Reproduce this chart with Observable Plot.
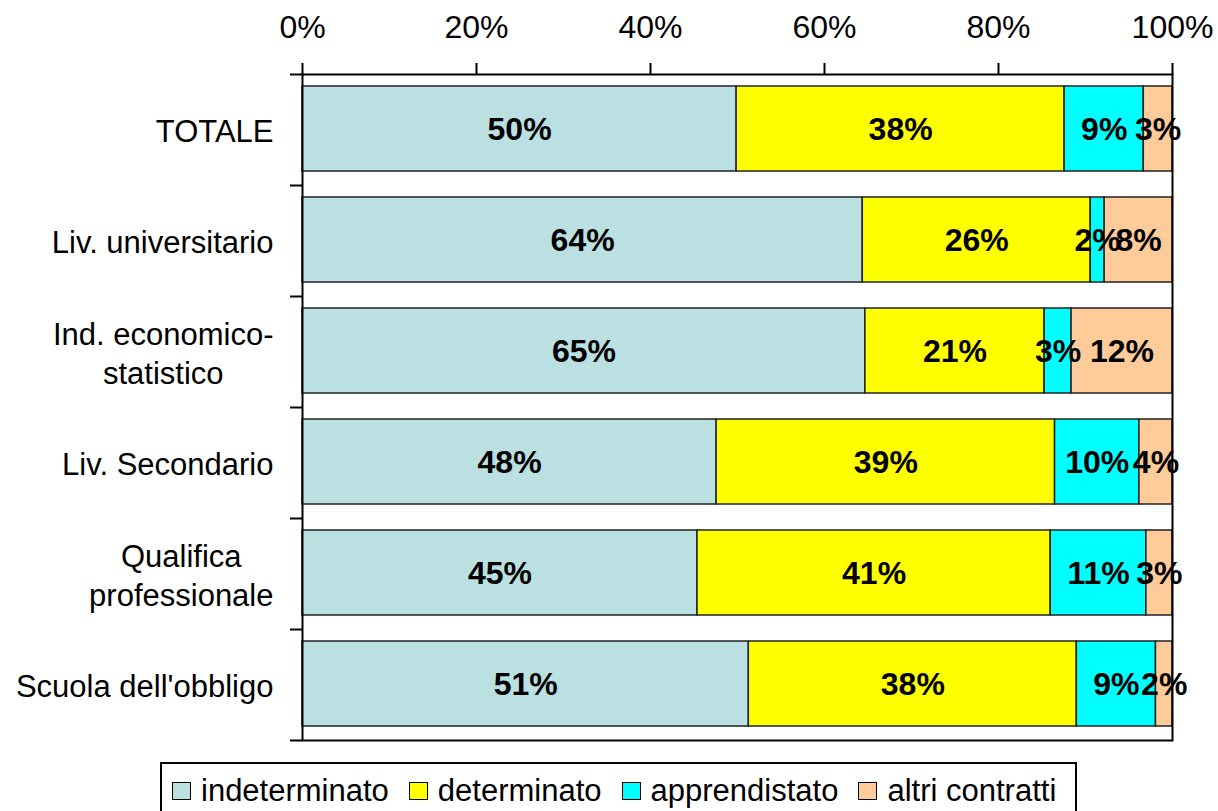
<!DOCTYPE html>
<html><head><meta charset="utf-8">
<script src="https://cdn.jsdelivr.net/npm/d3@7"></script>
<script src="https://cdn.jsdelivr.net/npm/@observablehq/plot@0.6"></script>
<style>
body{margin:0;background:#fff;font-family:"Liberation Sans",Arial,sans-serif;}
#wrap{position:relative;width:1218px;height:811px;overflow:hidden;}
#legend{position:absolute;left:160px;top:762px;width:917px;height:70px;border:2px solid #000;box-sizing:border-box;display:flex;align-items:flex-start;padding:9px 0 0 10px;font-size:31px;line-height:36px;color:#000;white-space:nowrap;}
.item{display:flex;align-items:center;margin-right:20px;}
.sw{width:19px;height:18px;border:1.5px solid #000;box-sizing:border-box;margin-right:10px;}
</style></head><body><div id="wrap"></div>
<script>
const categories = ["TOTALE","Liv. universitario","Ind. economico-\nstatistico","Liv. Secondario","Qualifica\nprofessionale","Scuola dell'obbligo"];
const types = ["indeterminato","determinato","apprendistato","altri contratti"];
const indeterminato  = [49.9, 64.4, 64.7, 47.6, 45.4, 51.3];
const determinato    = [37.7, 26.2, 20.6, 38.9, 40.6, 37.7];
const apprendistato  = [ 9.1,  1.6,  3.1,  9.7, 11.0,  9.1];
const altriContratti = [ 3.3,  7.8, 11.6,  3.8,  3.0,  1.9];
const colors = ["#BAE0E2","#FFFF00","#00FFFF","#FFCC99"];
const xTicks = [0,20,40,60,80,100];

const series = [indeterminato, determinato, apprendistato, altriContratti];
const rows = categories.flatMap((c,i) => series.map((vals,j) => ({cat:c, idx:i, type:types[j], value:vals[i]})));

const font = "'Liberation Sans', Arial, sans-serif";
const chart = Plot.plot({
  width: 1218, height: 750,
  marginLeft: 302, marginRight: 46, marginTop: 74, marginBottom: 10,
  style: {fontFamily: font, fontSize: "31px", color: "black", background: "white"},
  x: {domain: [0,100]},
  y: {domain: [0, categories.length], reverse: true},
  color: {domain: types, range: colors},
  marks: [
    Plot.rectX(rows, Plot.stackX({x:"value", y1: d=>d.idx, y2: d=>d.idx+1, fill:"type", order: types,
      stroke:"#222", strokeWidth:1.5, insetTop:12, insetBottom:14})),
    Plot.text(rows, Plot.stackX({x:"value", y: d=>d.idx+0.5, order: types, z:"type",
      text: d=>Math.round(d.value)+"%", fontWeight:"bold", fontSize:32, fill:"black"})),
    Plot.frame({stroke:"black", strokeWidth:2}),
    Plot.axisX({anchor:"top", ticks:xTicks, tickSize:12, tickPadding:25, tickFormat:d=>d+"%", fontSize:32, strokeWidth:2, label:null}),
    Plot.axisY({ticks: d3.range(categories.length+1), tickSize:12, tickFormat:()=>"", strokeWidth:2, label:null}),
    Plot.text(categories, {y:(d,i)=>i+0.5, text:d=>d, frameAnchor:"left", textAnchor:"end", dx:-29,
      lineHeight:1.25, fontSize:31, fill:"black", className:"catlabels"})
  ]
});
document.getElementById("wrap").appendChild(chart);

// center multi-line category labels (as Excel wraps them)
chart.querySelectorAll("g.catlabels text").forEach(t => {
  const spans = t.querySelectorAll("tspan");
  if (spans.length > 1) {
    const w = d3.max(Array.from(spans), s => s.getComputedTextLength());
    t.setAttribute("text-anchor","middle");
    spans.forEach(s => s.setAttribute("x", -w/2));
  }
});

const legend = document.createElement("div");
legend.id = "legend";
types.forEach((t,i) => {
  const it = document.createElement("div"); it.className = "item";
  const sw = document.createElement("div"); sw.className = "sw"; sw.style.background = colors[i];
  const lb = document.createElement("span"); lb.textContent = t;
  it.appendChild(sw); it.appendChild(lb); legend.appendChild(it);
});
document.getElementById("wrap").appendChild(legend);
</script></body></html>
